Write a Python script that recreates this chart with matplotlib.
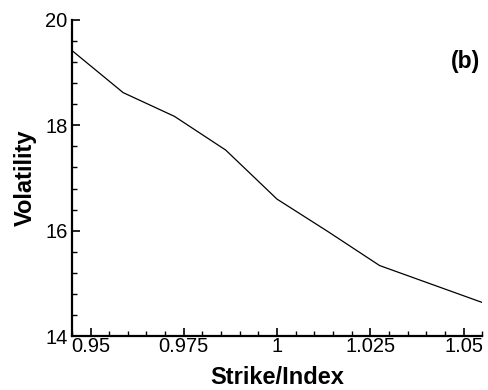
import matplotlib
matplotlib.use("Agg")
import matplotlib.pyplot as plt
from matplotlib.ticker import MultipleLocator

plt.rcParams['font.family'] = ['Liberation Sans', 'DejaVu Sans']

# Implied volatility smile across moneyness
strike_index = [0.945, 0.95875, 0.9725, 0.98625, 1.0, 1.01375, 1.0275, 1.04125, 1.055]
volatility = [19.42, 18.62, 18.17, 17.53, 16.60, 15.98, 15.34, 14.99, 14.64]

x_ticks = [0.95, 0.975, 1.0, 1.025, 1.05]
x_tick_labels = ["0.95", "0.975", "1", "1.025", "1.05"]
y_ticks = [14, 16, 18, 20]

fig = plt.figure(figsize=(4.89, 3.90), dpi=100)
ax = fig.add_axes([0.147, 0.138, 0.839, 0.811])

ax.plot(strike_index, volatility, color='black', linewidth=0.9)

ax.set_xlim(0.945, 1.055)
ax.set_ylim(14, 20)
ax.set_xticks(x_ticks)
ax.set_xticklabels(x_tick_labels)
ax.set_yticks(y_ticks)
ax.xaxis.set_minor_locator(MultipleLocator(0.005))
ax.yaxis.set_minor_locator(MultipleLocator(0.4))

for side in ('top', 'right'):
    ax.spines[side].set_visible(False)
for side in ('left', 'bottom'):
    ax.spines[side].set_linewidth(1.6)

ax.tick_params(axis='both', which='major', direction='in', length=6, width=1.2,
               labelsize=14.5)
ax.tick_params(axis='both', which='minor', direction='in', length=3.5, width=1.0)
ax.tick_params(axis='x', which='major', pad=0.5)
ax.tick_params(axis='y', which='major', pad=3)

ax.set_xlabel('Strike/Index', fontsize=17, fontweight='bold', labelpad=7)
ax.set_ylabel('Volatility', fontsize=17, fontweight='bold', labelpad=6)

ax.text(1.0545, 19.22, '(b)', fontsize=16.5, fontweight='bold', ha='right', va='center')

fig.savefig('out.png', dpi=100)
